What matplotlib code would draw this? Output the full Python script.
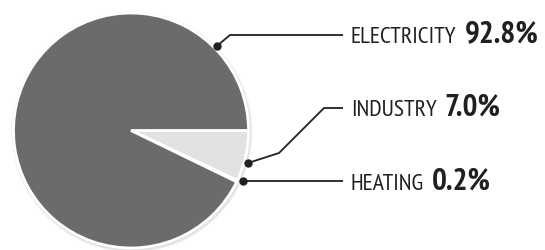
import matplotlib
matplotlib.use("Agg")
import matplotlib.pyplot as plt

categories = ["INDUSTRY", "HEATING", "ELECTRICITY"]
values = [7.0, 0.2, 92.8]
colors = ["#e1e2e3", "#6b6b6c", "#6b6b6c"]
label_text = ["7.0%", "0.2%", "92.8%"]

FONT = "PT Sans Narrow"
INK = "#231f20"

W, H = 545, 250
fig = plt.figure(figsize=(W / 100, H / 100), dpi=100)
ax = fig.add_axes([0, 0, 1, 1])

cx, cy, R = 131, H - 130.5, 117.5

# soft shadow
for i, a in enumerate([0.06, 0.04, 0.025]):
    ax.add_patch(plt.Circle((cx + 1, cy - 1.5), R + 1.5 + i, color="black", alpha=a, lw=0, zorder=0))

ax.pie(values, colors=colors, startangle=0, counterclock=False, center=(cx, cy), radius=R,
       wedgeprops=dict(edgecolor="white", linewidth=2.0), frame=True)
ax.set_xlim(0, W)
ax.set_ylim(0, H)
ax.set_aspect("equal")
ax.axis("off")

# leader paths (pixel coords, y from top) and label baselines
paths = {
    "ELECTRICITY": [(217, 46), (230, 35), (343, 35)],
    "INDUSTRY": [(248, 163), (279, 153), (324, 108), (343, 108)],
    "HEATING": [(243, 181), (343, 181)],
}
baselines = {"ELECTRICITY": 42.7, "INDUSTRY": 115.5, "HEATING": 190}

renderer = fig.canvas.get_renderer()
for cat, txt in zip(categories, label_text):
    pts = paths[cat]
    xs = [p[0] for p in pts]
    ys = [H - p[1] for p in pts]
    ax.plot(xs, ys, color=INK, lw=1.3, zorder=5, solid_capstyle="butt")
    ax.plot(xs[0], ys[0], "o", color=INK, ms=5, zorder=6)
    t = ax.text(351, H - baselines[cat], cat, ha="left", va="baseline",
                fontsize=17, family=FONT, color=INK)
    ext = t.get_window_extent(renderer)
    x1 = ax.transData.inverted().transform((ext.x1, 0))[0]
    ax.text(x1 + 8, H - baselines[cat], txt, ha="left", va="baseline",
            fontsize=22.5, family=FONT, weight="bold", color=INK)

fig.savefig("out.png", dpi=100)
